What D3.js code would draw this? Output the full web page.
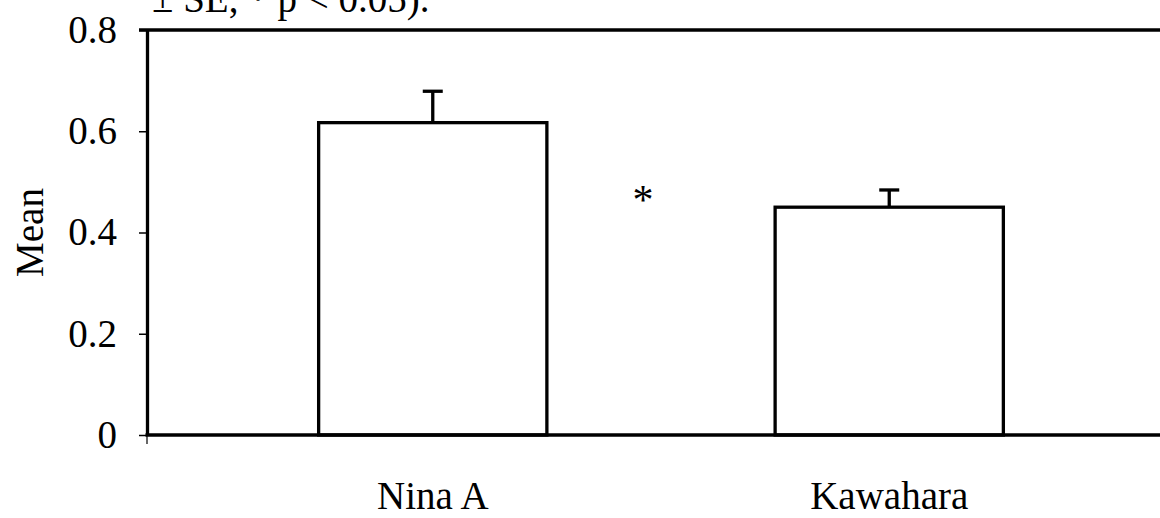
<!DOCTYPE html>
<html>
<head>
<meta charset="utf-8">
<script src="https://cdn.jsdelivr.net/npm/d3@7"></script>
<style>
  html, body { margin: 0; padding: 0; background: #fff; }
  svg { display: block; }
  text { font-family: "Liberation Serif", "Times New Roman", serif; fill: #000; }
</style>
</head>
<body>
<svg id="chart" width="1160" height="518"></svg>
<script>
const categories = ["Nina A", "Kawahara"];
const means = [0.617, 0.450];
const errors = [0.062, 0.034];
const yTicks = [0, 0.2, 0.4, 0.6, 0.8];
const yLabel = "Mean";
const captionFragment = "± SE, * p < 0.05).";
const significanceMark = "*";

const W = 1160, H = 518;
const margin = { left: 147, top: 30, bottom: 83 };
const svg = d3.select("#chart");

const y = d3.scaleLinear().domain([0, 0.8]).range([H - margin.bottom, margin.top]);
const x = d3.scaleBand().domain(categories)
  .range([margin.left, 1175]).paddingInner(0.5).paddingOuter(0.376);

const fontSize = 39;
const lw = 3.3;

// caption fragment (cut off at top, as in the reference)
svg.append("text").attr("x", 152).attr("y", 12)
  .style("font-size", fontSize + "px").text(captionFragment);

// frame top line
svg.append("line").attr("x1", margin.left - 8).attr("x2", W)
  .attr("y1", y(0.8)).attr("y2", y(0.8))
  .attr("stroke", "#000").attr("stroke-width", lw);

// bars
svg.selectAll("rect.bar").data(categories).join("rect")
  .attr("class", "bar")
  .attr("x", d => x(d))
  .attr("width", x.bandwidth())
  .attr("y", (d, i) => y(means[i]))
  .attr("height", (d, i) => y(0) - y(means[i]))
  .attr("fill", "#fff").attr("stroke", "#000").attr("stroke-width", lw);

// error bars
const cx = d => x(d) + x.bandwidth() / 2;
svg.selectAll("line.err").data(categories).join("line")
  .attr("class", "err")
  .attr("x1", cx).attr("x2", cx)
  .attr("y1", (d, i) => y(means[i]))
  .attr("y2", (d, i) => y(means[i] + errors[i]))
  .attr("stroke", "#000").attr("stroke-width", lw);
svg.selectAll("line.cap").data(categories).join("line")
  .attr("class", "cap")
  .attr("x1", d => cx(d) - 10).attr("x2", d => cx(d) + 10)
  .attr("y1", (d, i) => y(means[i] + errors[i]))
  .attr("y2", (d, i) => y(means[i] + errors[i]))
  .attr("stroke", "#000").attr("stroke-width", lw);

// y axis
const yAxis = d3.axisLeft(y).tickValues(yTicks).tickSize(8).tickSizeOuter(0)
  .tickPadding(22)
  .tickFormat(d => d === 0 ? "0" : d3.format(".1f")(d));
const gy = svg.append("g").attr("transform", `translate(${margin.left},0)`).call(yAxis);
gy.select(".domain").attr("stroke-width", lw);
gy.selectAll(".tick line").attr("stroke-width", 1.5);
gy.selectAll(".tick text").style("font-size", fontSize + "px")
  .style("font-family", '"Liberation Serif", "Times New Roman", serif');

// x axis baseline
svg.append("line").attr("x1", margin.left - 1.5).attr("x2", W)
  .attr("y1", y(0)).attr("y2", y(0))
  .attr("stroke", "#000").attr("stroke-width", lw);
svg.append("line").attr("x1", margin.left).attr("x2", margin.left)
  .attr("y1", y(0)).attr("y2", y(0) + 9)
  .attr("stroke", "#000").attr("stroke-width", 1.2);

// x labels
svg.selectAll("text.xlab").data(categories).join("text")
  .attr("class", "xlab")
  .attr("x", cx).attr("y", 509)
  .attr("text-anchor", "middle")
  .style("font-size", fontSize + "px").text(d => d);

// y label
svg.append("text")
  .attr("transform", `translate(43, ${(y(0) + y(0.8)) / 2}) rotate(-90)`)
  .attr("text-anchor", "middle")
  .style("font-size", fontSize + "px").text(yLabel);

// significance mark
svg.append("text")
  .attr("x", (cx(categories[0]) + cx(categories[1])) / 2 - 18)
  .attr("y", y(0.437))
  .attr("text-anchor", "middle")
  .style("font-size", (fontSize + 3) + "px").text(significanceMark);
</script>
</body>
</html>
